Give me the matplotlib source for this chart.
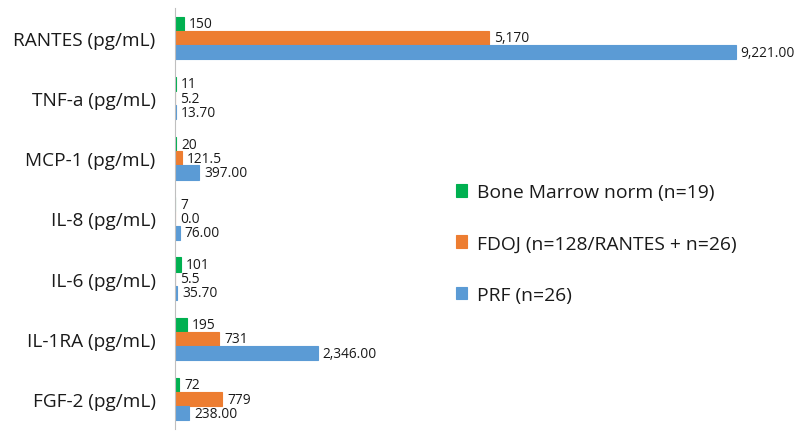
import numpy as np
import matplotlib.pyplot as plt

# datos del grafico
categorias = ["RANTES (pg/mL)", "TNF-a (pg/mL)", "MCP-1 (pg/mL)", "IL-8 (pg/mL)",
              "IL-6 (pg/mL)", "IL-1RA (pg/mL)", "FGF-2 (pg/mL)"]
medula = [150, 11, 20, 7, 101, 195, 72]
fdoj = [5170, 5.2, 121.5, 0.0, 5.5, 731, 779]
prf = [9221.00, 13.70, 397.00, 76.00, 35.70, 2346.00, 238.00]

etiq_medula = ["150", "11", "20", "7", "101", "195", "72"]
etiq_fdoj = ["5,170", "5.2", "121.5", "0.0", "5.5", "731", "779"]
etiq_prf = ["9,221.00", "13.70", "397.00", "76.00", "35.70", "2,346.00", "238.00"]

series = ["Bone Marrow norm (n=19)", "FDOJ (n=128/RANTES + n=26)", "PRF (n=26)"]
colores = ["#00B050", "#ED7D31", "#5B9BD5"]

plt.rcParams['font.family'] = ['Open Sans', 'DejaVu Sans']

fig = plt.figure(figsize=(8, 4.39), dpi=100)
ax = fig.add_axes([0.21875, 0.02, 0.76, 0.96])

y = np.arange(len(categorias))
h = 0.235
valores = [medula, fdoj, prf]
etiquetas = [etiq_medula, etiq_fdoj, etiq_prf]
for i in range(3):
    pos = y + (i - 1) * h
    # borde fino para que las barras casi nulas se vean
    ax.barh(pos, valores[i], height=h, color=colores[i], edgecolor=colores[i],
            linewidth=0.8, label=series[i])
    for p, v, t in zip(pos, valores[i], etiquetas[i]):
        ax.text(v + 80, p, t, va='center', ha='left', fontsize=9.9, color='#1a1a1a')

ax.set_ylim(len(categorias) - 0.5, -0.5)
ax.set_xlim(0, 10000)
ax.set_yticks(y)
ax.set_yticklabels(categorias, fontsize=13.7, color='#1a1a1a')
ax.tick_params(axis='y', length=0, pad=14)
ax.set_xticks([])
for s in ['top', 'right', 'bottom']:
    ax.spines[s].set_visible(False)
ax.spines['left'].set_color('#BFBFBF')

ax.legend(loc='upper left', bbox_to_anchor=(0.548, 0.62), bbox_transform=fig.transFigure,
          frameon=False, fontsize=13.9, handlelength=0.6, handleheight=0.6,
          handletextpad=0.5, labelspacing=1.72, labelcolor='#1a1a1a')

plt.savefig("out.png")
